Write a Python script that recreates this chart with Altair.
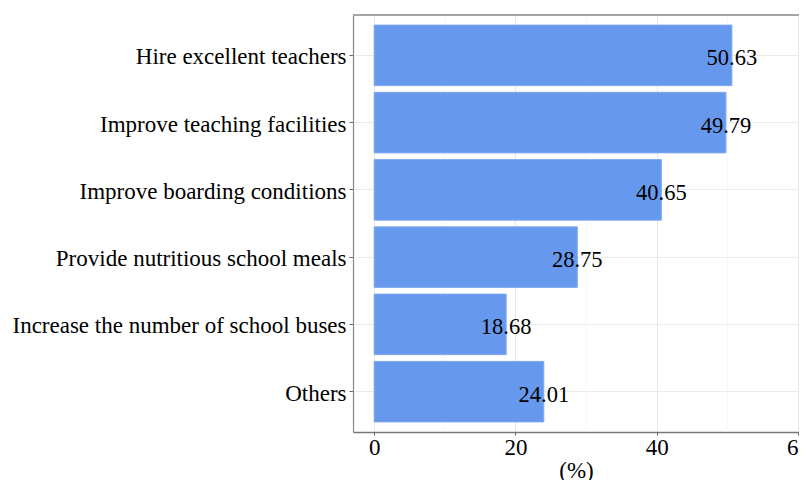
import altair as alt
import pandas as pd

categories = [
    "Hire excellent teachers",
    "Improve teaching facilities",
    "Improve boarding conditions",
    "Provide nutritious school meals",
    "Increase the number of school buses",
    "Others",
]
values = [50.63, 49.79, 40.65, 28.75, 18.68, 24.01]
labels = ["50.63", "49.79", "40.65", "28.75", "18.68", "24.01"]
major_ticks = [0, 20, 40, 60]
minor_ticks = [10, 30, 50]

df = pd.DataFrame({"cat": categories, "val": values, "lab": labels})
minor_df = pd.DataFrame({"m": minor_ticks})

FONT = "Liberation Serif"

xscale = alt.Scale(domain=[-3, 60.13], nice=False, zero=False)
yscale = alt.Scale(domain=categories, paddingInner=0.1, paddingOuter=0.15)

minor = alt.Chart(minor_df).mark_rule(color="#F4F4F4", strokeWidth=0.8).encode(
    x=alt.X("m:Q", scale=xscale)
)

top_border = alt.Chart(minor_df).mark_rule(color="#999", strokeWidth=1).encode(
    y=alt.value(0), x=alt.value(0), x2=alt.value(460)
)

bars = alt.Chart(df).mark_bar(color="#6699EE", stroke="#7FA9F0", strokeWidth=1).encode(
    y=alt.Y(
        "cat:N",
        scale=yscale,
        sort=categories,
        axis=alt.Axis(
            title=None,
            labelFont=FONT,
            labelFontSize=23,
            labelColor="black",
            labelPadding=3,
            labelOffset=2,
            tickSize=4,
            tickColor="#666",
            domain=True,
            domainColor="#888",
            domainWidth=1.2,
            grid=True,
            gridColor="#EBEBEB",
            bandPosition=0.5,
            labelLimit=400,
        ),
    ),
    x=alt.X(
        "val:Q",
        scale=xscale,
        axis=alt.Axis(
            values=major_ticks,
            title="(%)",
            titleFont=FONT,
            titleFontSize=23,
            titleFontWeight="normal",
            titleColor="black",
            titlePadding=0,
            labelFont=FONT,
            labelFontSize=23,
            labelColor="black",
            labelPadding=1,
            labelOverlap=False,
            labelBound=False,
            labelFlush=False,
            tickSize=3,
            tickColor="#666",
            domainColor="#777",
            domainWidth=1.4,
            grid=True,
            gridColor="#E6E6E6",
        ),
    ),
    x2=alt.datum(0),
)

text = alt.Chart(df).mark_text(
    font=FONT, fontSize=22.5, color="black", align="center", baseline="middle", dy=3
).encode(
    y=alt.Y("cat:N", scale=yscale, sort=categories),
    x=alt.X("val:Q", scale=xscale),
    text="lab:N",
)

chart = (
    alt.layer(minor, bars, text, top_border)
    .properties(
        width=446,
        height=417,
        autosize=alt.AutoSizeParams(type="none"),
        padding={"left": 345, "top": 7, "right": 0, "bottom": 48},
    )
    .configure_view(stroke=None)
)

chart.save("out.html", embed_options={"renderer": "svg", "actions": False})
